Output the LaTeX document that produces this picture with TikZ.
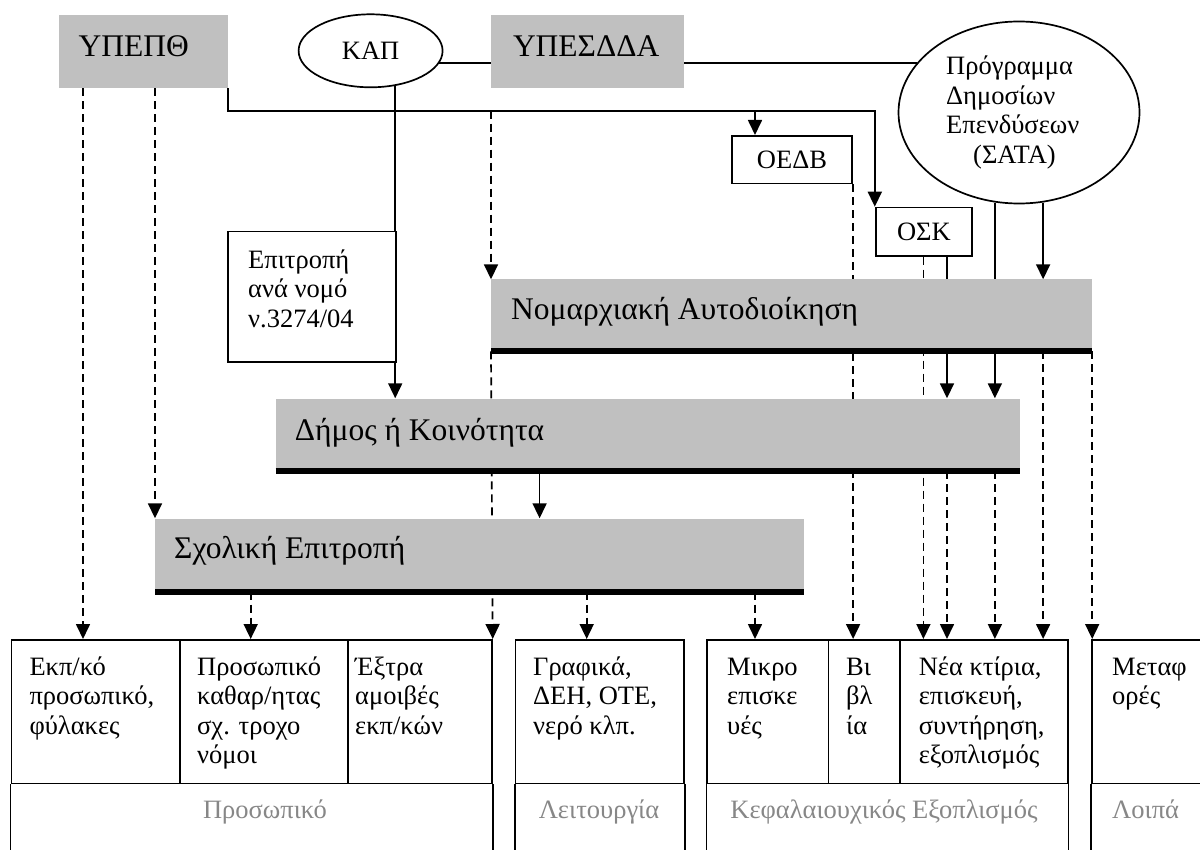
\documentclass[tikz,border=0pt]{standalone}
\usepackage{fontspec}
\setmainfont{Liberation Serif}
\usetikzlibrary{arrows.meta,shapes.geometric,backgrounds}
\definecolor{boxgray}{RGB}{192,192,192}
\definecolor{labgray}{RGB}{135,135,135}
\newcommand\txtlines[1]{\vtop{\halign{##\hfil\cr#1\crcr}}}
\begin{document}
\begin{tikzpicture}[x=1pt,y=-1pt,
  conn/.style={line width=1.7pt},
  arr/.style={conn,-{Triangle[width=14pt,length=15pt]}},
  darr/.style={arr,dash pattern=on 8pt off 5pt},
  gbox/.style={draw=none,fill=boxgray,rectangle,inner sep=0pt,anchor=north west},
  wbox/.style={draw,line width=1.7pt,rectangle,inner sep=0pt,anchor=north west,fill=white},
  cell/.style={draw,line width=1.7pt,rectangle,inner sep=0pt,anchor=north west,minimum height=143.5pt},
  oval/.style={draw,line width=1.7pt,ellipse,inner sep=0pt,fill=white},
  bar/.style={line width=6pt},
  big/.style={font=\fontsize{31.5}{37}\selectfont,inner sep=0pt},
  small/.style={font=\fontsize{26.5}{29.5}\selectfont,inner sep=0pt},
  lab/.style={small,text=labgray,anchor=base},
]
\useasboundingbox (0,0) rectangle (1200,850);
% guide coordinates
\coordinate (hl) at (0,110.7);
\coordinate (bot) at (0,850);
\coordinate (c83) at (83,0);
\coordinate (c155) at (155,0);
\coordinate (c250) at (250.7,0);
\coordinate (c491) at (491,0);
\coordinate (c539) at (539.6,0);
\coordinate (c587) at (586.7,0);
\coordinate (c755) at (755,0);
\coordinate (c923) at (923.4,0);
\coordinate (c947) at (947,0);

% top row
\node[gbox,minimum width=169.1pt,minimum height=72.7pt] (ypepth) at (58.6,15) {};
\node[big,anchor=base west] (ypepthT) at (78.5,56.7) {ΥΠΕΠΘ};
\node[oval,minimum width=144pt,minimum height=73pt,small] (kap) at (370.6,50.8) {ΚΑΠ};
\node[gbox,minimum width=192.8pt,minimum height=72.7pt] (ypesdda) at (491,15) {};
\node[big,anchor=base west] (ypesddaT) at (512.8,56.7) {ΥΠΕΣΔΔΑ};
\node[oval,minimum width=241pt,minimum height=182pt] (prog) at (1019,112.5) {};
\node[small,anchor=base west] (progT) at (946,75) {\txtlines{Πρόγραμμα\cr Δημοσίων\cr Επενδύσεων\cr\hspace*{27pt}(ΣΑΤΑ)}};

% middle boxes
\node[wbox,minimum width=120.5pt,minimum height=47.7pt,small] (oedb) at (730.9,135) {ΟΕΔΒ};
\node[wbox,minimum width=96.4pt,minimum height=48.3pt,small] (osk) at (874.8,206.7) {ΟΣΚ};
\node[wbox,minimum width=168pt,minimum height=130.8pt] (epitr) at (227,230.7) {};
\node[small,anchor=base west] (epitrT) at (248,268.3) {\txtlines{Επιτροπή\cr ανά νομό\cr ν.3274/04}};

\node[gbox,minimum width=600.8pt,minimum height=71.7pt] (nomarch) at (491,279.3) {};
\draw[bar] (nomarch.south west) -- (nomarch.south east);
\node[big,anchor=base west] (nomarchT) at (511,319.3) {Νομαρχιακή Αυτοδιοίκηση};

\node[gbox,minimum width=744.3pt,minimum height=72.7pt] (dimos) at (275.5,398.3) {};
\draw[bar] (dimos.south west) -- (dimos.south east);
\node[big,anchor=base west] (dimosT) at (294.7,440) {Δήμος ή Κοινότητα};

\node[gbox,minimum width=648.6pt,minimum height=72.9pt] (sxol) at (155,518.3) {};
\draw[bar] (sxol.south west) -- (sxol.south east);
\node[big,anchor=base west] (sxolT) at (174,558.3) {Σχολική Επιτροπή};

% table cells
\node[cell,minimum width=168.5pt] (A1) at (10.5,639) {};
\node[cell,minimum width=168pt] (A2) at (179,639) {};
\node[cell,minimum width=144pt] (A3) at (347,639) {};
\node[cell,minimum width=168.3pt] (B) at (514.7,639) {};
\node[cell,minimum width=121.3pt] (C1) at (706.4,639) {};
\node[cell,minimum width=71.6pt] (C2) at (827.7,639) {};
\node[cell,minimum width=167.5pt] (C3) at (899.3,639) {};
\node[cell,minimum width=130pt] (D) at (1091,639) {};
\draw[conn] (A1.south west) -- (A1.south west |- bot);
\draw[conn] (A3.south east) -- (A3.south east |- bot);
\draw[conn] (B.south west) -- (B.south west |- bot);
\draw[conn] (B.south east) -- (B.south east |- bot);
\draw[conn] (C1.south west) -- (C1.south west |- bot);
\draw[conn] (C3.south east) -- (C3.south east |- bot);
\draw[conn] (D.south west) -- (D.south west |- bot);

\node[small,anchor=base west] (tA1) at (29.3,675) {\txtlines{Εκπ/κό\cr προσωπικό,\cr φύλακες}};
\node[small,anchor=base west] (tA2) at (197,675) {\txtlines{Προσωπικό\cr καθαρ/ητας\cr σχ. τροχο\cr νόμοι}};
\node[small,anchor=base west] (tA3) at (355,675) {\txtlines{Έξτρα\cr αμοιβές\cr εκπ/κών}};
\node[small,anchor=base west] (tB) at (533,675) {\txtlines{Γραφικά,\cr ΔΕΗ, ΟΤΕ,\cr νερό κλπ.}};
\node[small,anchor=base west] (tC1) at (727,675) {\txtlines{Μικρο\cr επισκε\cr υές}};
\node[small,anchor=base west] (tC2) at (846,675) {\txtlines{Βι\cr βλ\cr ία}};
\node[small,anchor=base west] (tC3) at (918.6,675) {\txtlines{Νέα κτίρια,\cr επισκευή,\cr συντήρηση,\cr εξοπλισμός}};
\node[small,anchor=base west] (tD) at (1112,675) {\txtlines{Μεταφ\cr ορές}};

\node[lab] (labA) at (265,818) {Προσωπικό};
\node[lab] (labB) at (599,818) {Λειτουργία};
\node[lab] (labC) at (884,818) {Κεφαλαιουχικός Εξοπλισμός};
\node[lab,anchor=base west] (labD) at (1112,818) {Λοιπά};

% connectors
\begin{scope}[on background layer]
\draw[conn] (kap.-10) -- (kap.-10 -| ypesdda.west);
\draw[conn] (prog.154) -- (prog.154 -| ypesdda.east);
\draw[arr] (ypepth.south east) -- (hl -| ypepth.south east) -| (osk.north west);
\draw[arr] (hl -| c755) -- (oedb.north -| c755);
\draw[arr] (kap.-55) -- (kap.-55 |- dimos.north);
\draw[arr] (osk.south -| c947) -- (dimos.north -| c947);
\draw[arr] (prog.-105) -- (prog.-105 |- dimos.north);
\draw[arr] (prog.-75) -- (prog.-75 |- nomarch.north);
\draw[arr] (dimos.south -| c539) -- (sxol.north -| c539);

\draw[darr] (ypepth.south -| c83) -- (A1.north -| c83);
\draw[darr] (ypepth.south -| c155) -- (sxol.north -| c155);
\draw[darr] (hl -| c491) -- (nomarch.north -| c491);
\draw[darr] (nomarch.south -| c491) -- (A3.north east);
\draw[darr] (sxol.south -| c250) -- (A2.north -| c250);
\draw[darr] (sxol.south -| c587) -- (B.north -| c587);
\draw[darr] (sxol.south -| c755) -- (C1.north -| c755);
\draw[darr] (oedb.south east) -- (C2.north -| oedb.south east);
\draw[darr] (osk.south -| c923) -- (C3.north -| c923);
\draw[darr] (dimos.south -| c947) -- (C3.north -| c947);
\draw[darr] (dimos.south -| prog.-105) -- (C3.north -| prog.-105);
\draw[darr] (nomarch.south -| prog.-75) -- (C3.north -| prog.-75);
\draw[darr] (nomarch.south east) -- (nomarch.south east |- D.north);
\end{scope}
\end{tikzpicture}
\end{document}
